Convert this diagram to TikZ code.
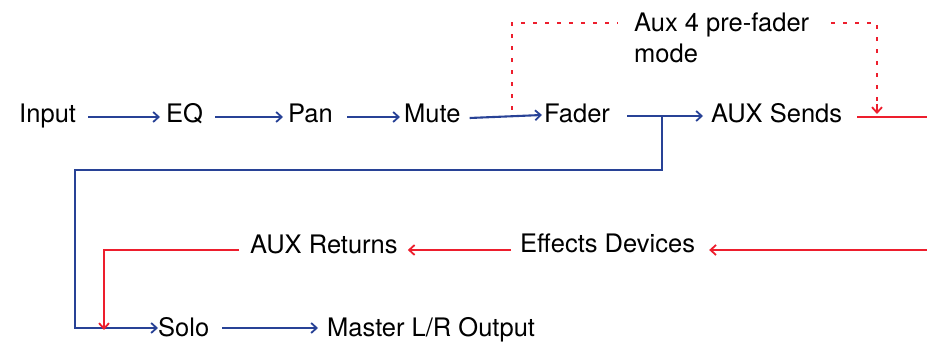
\documentclass[tikz,border=0pt]{standalone}
\usepackage{fontspec}
\setmainfont{TeX Gyre Heros}
\usetikzlibrary{arrows.meta,calc}
\definecolor{sigblue}{RGB}{40,66,150}
\definecolor{sigred}{RGB}{237,30,45}
\begin{document}
\begin{tikzpicture}[x=1pt,y=-1pt,
  lbl/.style={inner sep=0pt,anchor=base west,font=\fontsize{25.5}{31}\selectfont},
  tip/.style={-{Straight Barb[length=5.5pt,width=10pt,line width=1.8pt]}},
  bline/.style={draw=sigblue,line width=2.1pt},
  rline/.style={draw=sigred,line width=2.3pt},
  rdot/.style={draw=sigred,line width=2.3pt,dash pattern=on 4pt off 8pt}]
\useasboundingbox (0,0) rectangle (927,344);
% nodes
\node[lbl] (in) at (19,123) {Input};
\node[lbl] (eq) at (166,123) {EQ};
\node[lbl] (pan) at (288,123) {Pan};
\node[lbl] (mute) at (404,123) {Mute};
\node[lbl] (fader) at (544,123) {Fader};
\node[lbl] (auxs) at (711,123) {AUX Sends};
\node[lbl,align=left,anchor=north west] (aux4) at (634,13) {Aux 4 pre-fader\\mode};
\node[lbl] (ret) at (250,254) {AUX Returns};
\node[lbl] (fx) at (520,253) {Effects Devices};
\node[lbl] (solo) at (158,337) {Solo};
\node[lbl] (master) at (327,337) {Master L/R Output};
\coordinate (rightA) at (927,117);
\coordinate (rightB) at (927,250);
% blue chain
\draw[bline,tip] ($(in.base east)+(12,-6)$) -- ($(eq.base west)+(-6,-6)$);
\draw[bline,tip] ($(eq.base east)+(12,-6)$) -- ($(pan.base west)+(-5,-6)$);
\draw[bline,tip] ($(pan.base east)+(14,-6)$) -- ($(mute.base west)+(-4,-6)$);
\draw[bline,tip] ($(mute.base east)+(9,-5)$) -- ($(fader.base west)+(-2,-8)$);
\draw[bline,tip] ($(fader.base east)+(17,-7)$) coordinate (fa) -- ($(auxs.base west)+(-8,-7)$);
\draw[bline,tip,line join=miter] (fa -| 662,0) -- (662,170) -- (75,170) -- (75,328) -- ($(solo.base west)+(0,-9)$);
\draw[bline,tip] ($(solo.base east)+(13,-9)$) -- ($(master.base west)+(-9,-9)$);
% red paths
\draw[rline] ($(auxs.base east)+(15,-6)$) -- (rightA);
\draw[rline,tip] (rightB) -- ($(fx.base east)+(14,-3)$);
\draw[rline,tip] ($(fx.base west)+(-9,-3)$) -- ($(ret.base east)+(10,-4)$);
\draw[rline,tip,line join=miter] ($(ret.base west)+(-11,-4)$) -- (104,250) -- ($(solo.base west)+(-54,-7)$);
% dotted pre-fader
\draw[rdot] (512,110) -- (512,23) -- ($(aux4.north west)+(-16,10)$);
\draw[rdot] ($(aux4.north east)+(22,10)$) -- (877,23) -- (877,104);
\draw[draw=sigred,line width=2.3pt,tip] (877,104) -- (877,114);
\end{tikzpicture}
\end{document}
